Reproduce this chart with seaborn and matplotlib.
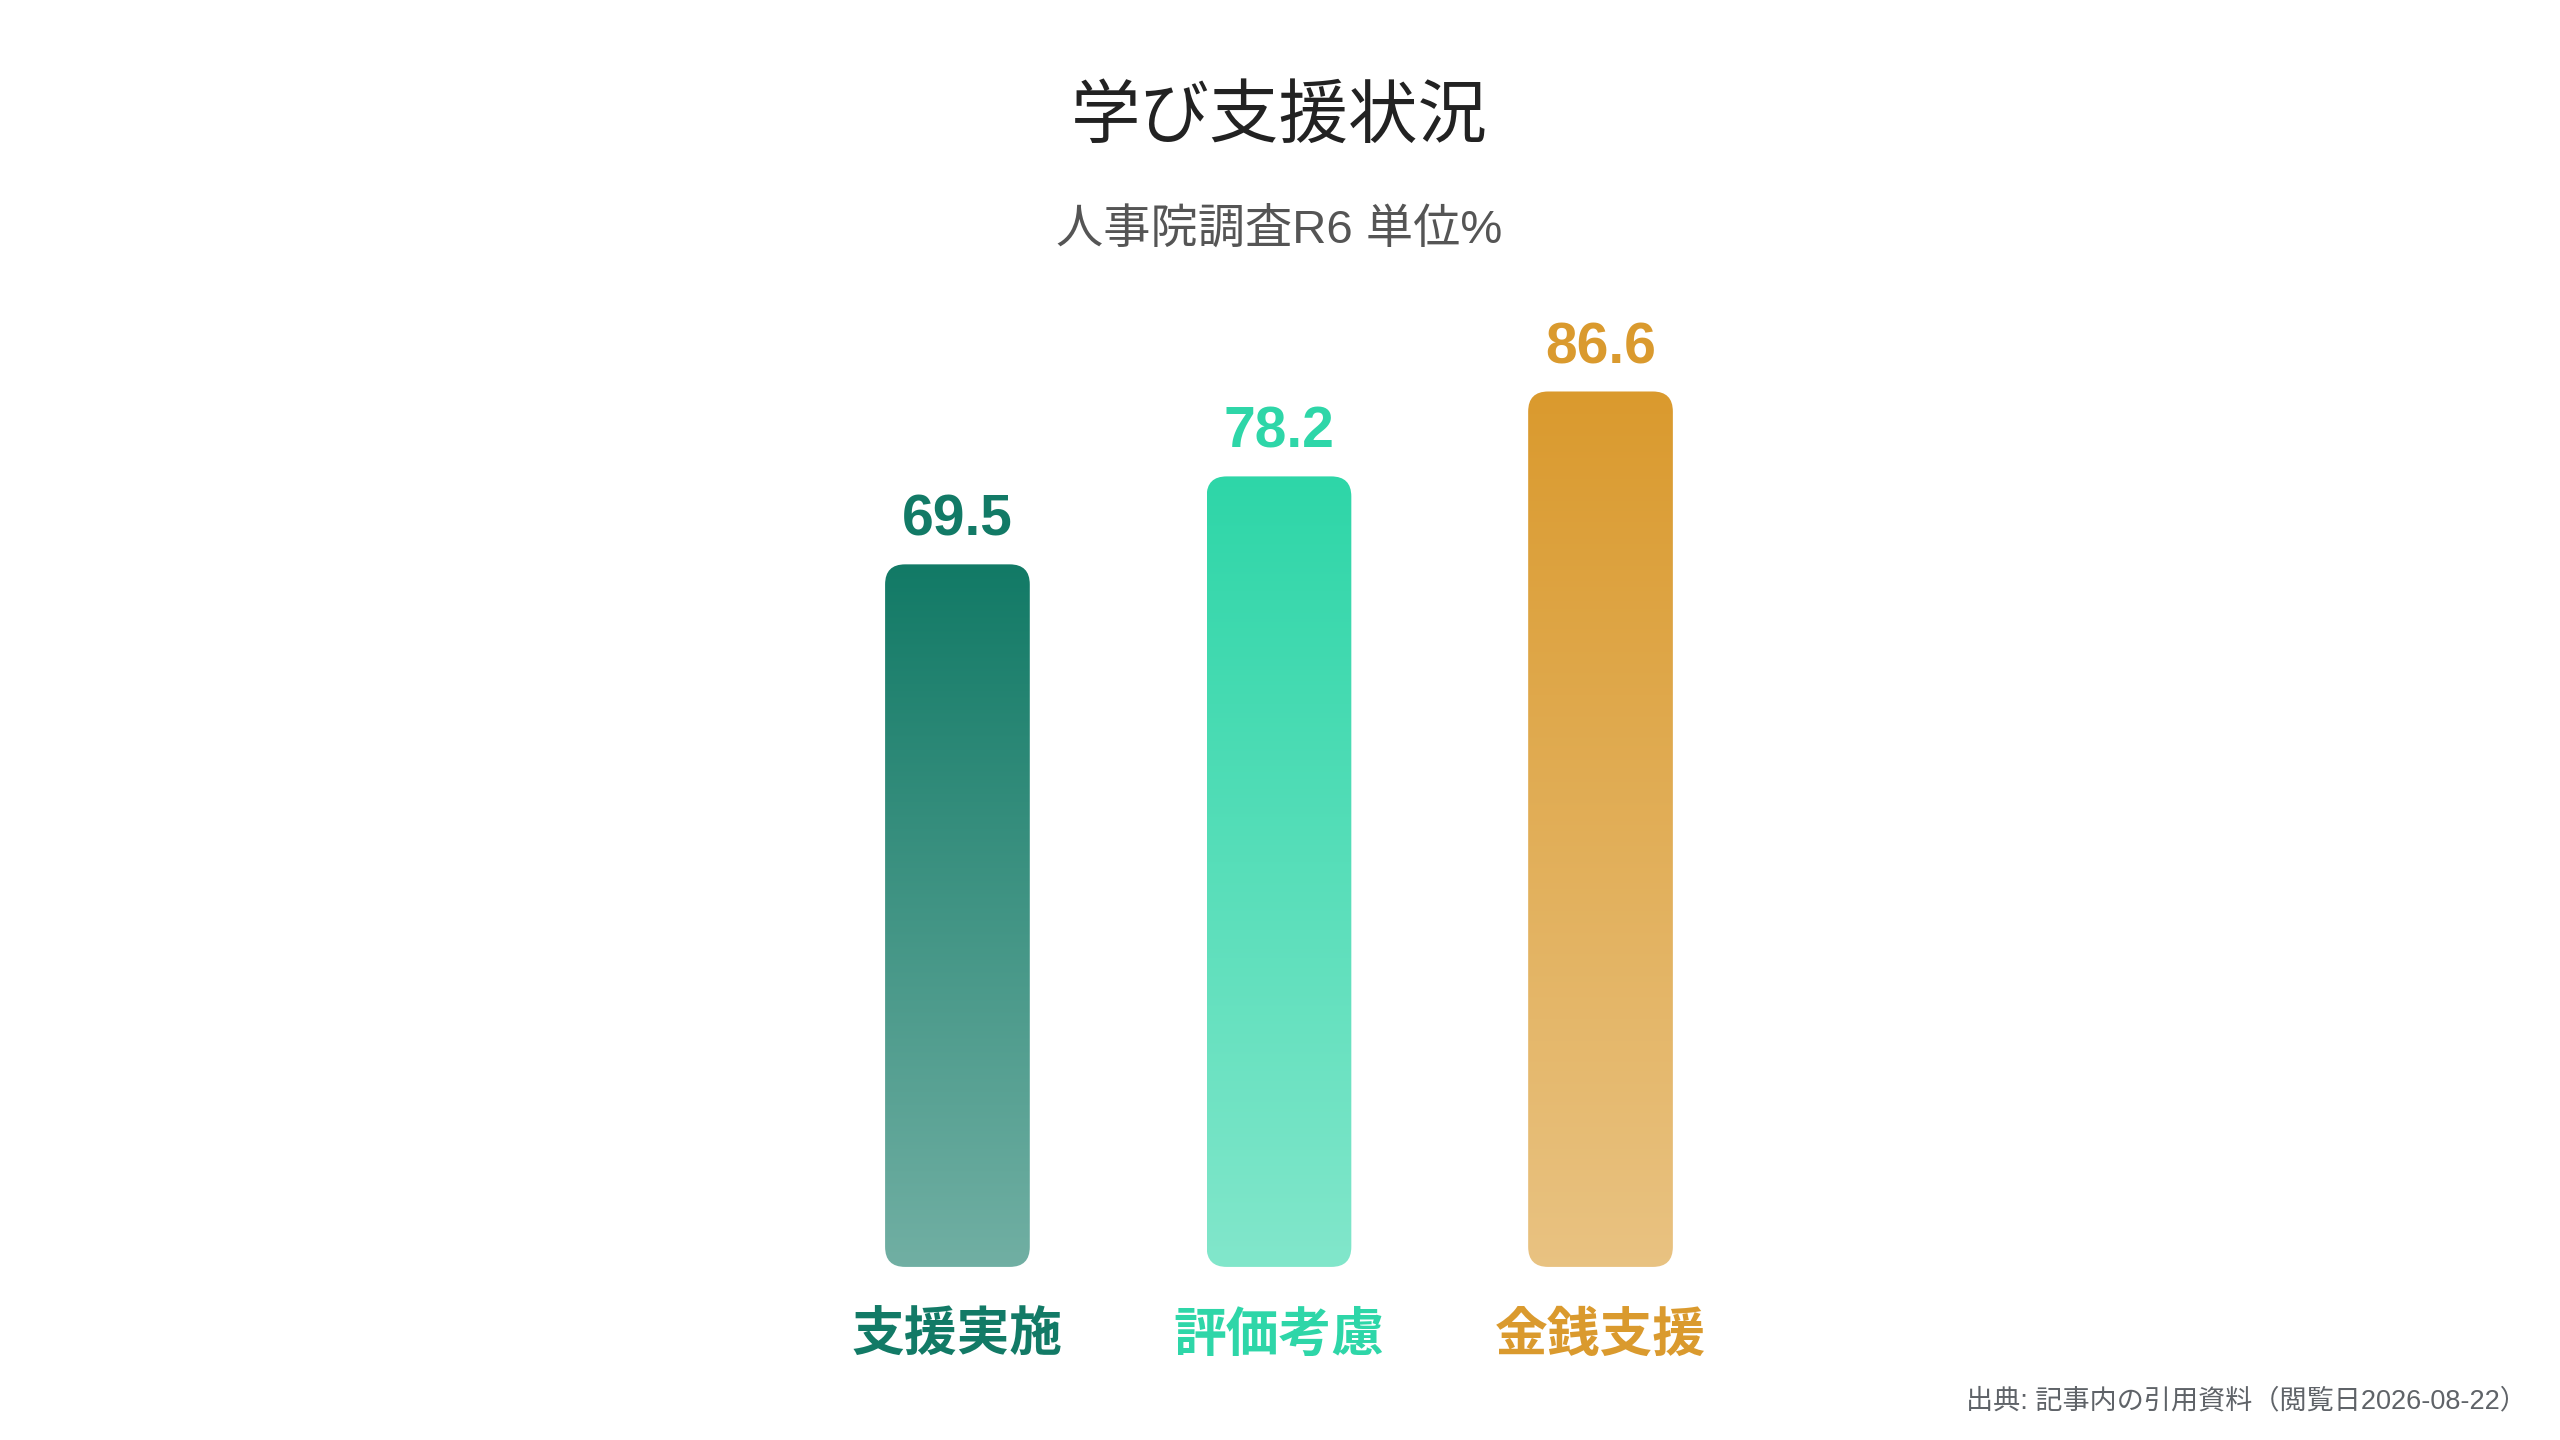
import matplotlib.pyplot as plt
import matplotlib.transforms as mtransforms
import numpy as np
import pandas as pd
import seaborn as sns
from matplotlib.colors import to_rgb
from matplotlib.patches import FancyBboxPatch

# data
categories = ['支援実施', '評価考慮', '金銭支援']
values = [69.5, 78.2, 86.6]
bar_colors = ['#127a66', '#2ed6a8', '#da9a2e']

title = '学び支援状況'
subtitle = '人事院調査R6 単位%'
source = '出典: 記事内の引用資料（閲覧日2026-08-22）'

sns.set_theme(style='white')
plt.rcParams['font.family'] = ['Liberation Sans', 'Noto Sans CJK JP', 'DejaVu Sans']

fig = plt.figure(figsize=(25.6, 14.4), dpi=100)
fig.patch.set_facecolor('white')
ax = fig.add_axes([0.3112, 0.1202, 0.3768, 0.702])

df = pd.DataFrame({'category': categories, 'value': values})
sns.barplot(data=df, x='category', y='value', hue='category', palette=bar_colors,
            legend=False, width=0.45, ax=ax)
ax.set_xlim(-0.5, 2.5)
ax.set_ylim(0, 100)

# rounded gradient bars in place of the flat ones
bbox = ax.get_window_extent()
x_per_px = 3 / bbox.width
y_per_px = 100 / bbox.height
aspect = y_per_px / x_per_px
radius = 20 * x_per_px

bars = list(ax.patches)
for patch, color in zip(bars, bar_colors):
    x0, w, h = patch.get_x(), patch.get_width(), patch.get_height()
    patch.set_visible(False)
    rgb = np.array(to_rgb(color))
    fade = np.linspace(0.6, 1.0, 256)[:, None]
    grad = (rgb * fade + (1 - fade))[:, None, :]
    box = FancyBboxPatch((x0, 0), w, h, boxstyle=f'round,pad=0,rounding_size={radius}',
                         mutation_aspect=aspect, facecolor='none', edgecolor='none')
    ax.add_patch(box)
    im = ax.imshow(grad, extent=(x0, x0 + w, 0, h), origin='lower', aspect='auto',
                   interpolation='bilinear', zorder=2)
    im.set_clip_path(box)

    xc = x0 + w / 2
    ax.annotate(f'{h:.1f}', (xc, h), xytext=(0, 20.5), textcoords='offset points',
                ha='center', va='baseline', fontsize=41, fontweight='bold', color=color)

ax.set_xlim(-0.5, 2.5)
ax.set_ylim(0, 100)

for i, (cat, color) in enumerate(zip(categories, bar_colors)):
    ax.text(i, -0.069, cat, transform=ax.get_xaxis_transform(), ha='center', va='center',
            fontsize=38, fontweight='bold', color=color)

ax.set_xticks([])
ax.set_yticks([])
ax.set_xlabel('')
ax.set_ylabel('')
sns.despine(ax=ax, left=True, bottom=True)

# titles centred over the plot
trans = mtransforms.blended_transform_factory(ax.transAxes, fig.transFigure)
ax.text(0.5, 0.918, title, transform=trans, ha='center', va='center',
        fontsize=50, color='#222222')
ax.text(0.5, 0.840, subtitle, transform=trans, ha='center', va='center',
        fontsize=34, color='#555555')

fig.text(0.987, 0.027, source, ha='right', va='center', fontsize=19.5, color='#5f6368')

fig.savefig('out.png', dpi=100)
